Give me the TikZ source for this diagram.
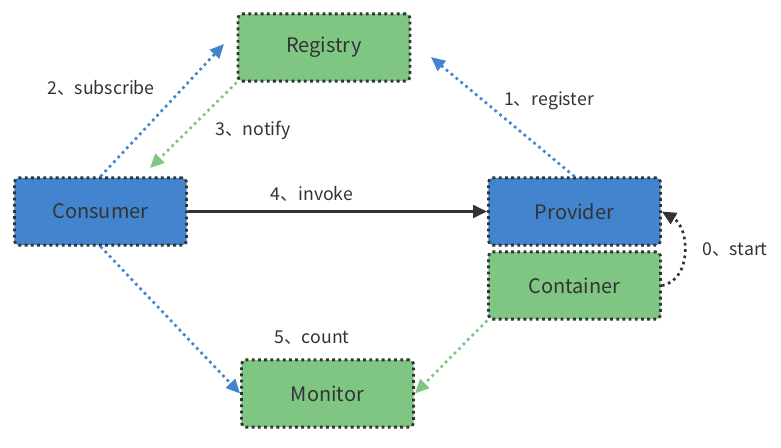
\documentclass[tikz,border=0pt]{standalone}
\usepackage{fontspec}
\setmainfont{Noto Sans CJK SC}
\usepackage{xcolor}
\definecolor{dbblue}{RGB}{66,133,206}
\definecolor{dbgreen}{RGB}{127,198,131}
\definecolor{dbdark}{RGB}{51,51,51}
\usetikzlibrary{arrows.meta, positioning}

\tikzset{
  box/.style={draw=dbdark, line width=2pt, dash pattern=on 2pt off 2.4pt,
    rounded corners=3pt, minimum width=4.3cm, minimum height=1.68cm,
    font=\fontsize{14.2}{16}\selectfont, text=dbdark},
  lbl/.style={font=\fontsize{12.6}{14}\selectfont, text=dbdark},
  dotarrow/.style={line width=1.9pt, dash pattern=on 1.9pt off 2.6pt,
    -{Triangle[length=10pt, width=9pt]}},
}

\begin{document}
\begin{tikzpicture}[x=0.025cm, y=-0.025cm]
  \useasboundingbox (0,0) rectangle (781,447);

  % Boxes
  \node[box, fill=dbgreen] (registry) at (324,47.5) {Registry};
  \node[box, fill=dbblue] (consumer) at (100.5,211.5) {Consumer};
  \node[box, fill=dbblue] (provider) at (574.5,211.5) {Provider};
  \node[box, fill=dbgreen] (container) at (574.5,285.5) {Container};
  \node[box, fill=dbgreen] (monitor) at (327.5,393.5) {Monitor};

  % Helper points
  \coordinate (subend) at (224,44);
  \coordinate (notend) at (150,168);
  \coordinate (regend) at (431,57);

  % Connectors
  \draw[dotarrow, dbblue] (consumer.north) -- (subend);
  \draw[dotarrow, dbgreen] (registry.south west) -- (notend);
  \draw[dotarrow, dbblue] (provider.north) -- (regend);
  \draw[line width=2pt, dbdark, -{Triangle[length=10pt, width=9pt]}] (consumer.east) -- (provider.west);
  \draw[dotarrow, dbblue] (consumer.south) -- (monitor.west);
  \draw[dotarrow, dbgreen] (container.south west) -- (monitor.east);
  \draw[dotarrow, dbdark] (container.east) .. controls (692,280) and (690,228) .. (provider.east);

  % Labels
  \node[lbl] (l2) at (101,88) {2、subscribe};
  \node[lbl] (l3) at (253,130) {3、notify};
  \node[lbl] (l1) at (549,101) {1、register};
  \node[lbl] (l4) at (312,194) {4、invoke};
  \node[lbl] (l0) at (735,250) {0、start};
  \node[lbl] (l5) at (312,338) {5、count};
\end{tikzpicture}
\end{document}
